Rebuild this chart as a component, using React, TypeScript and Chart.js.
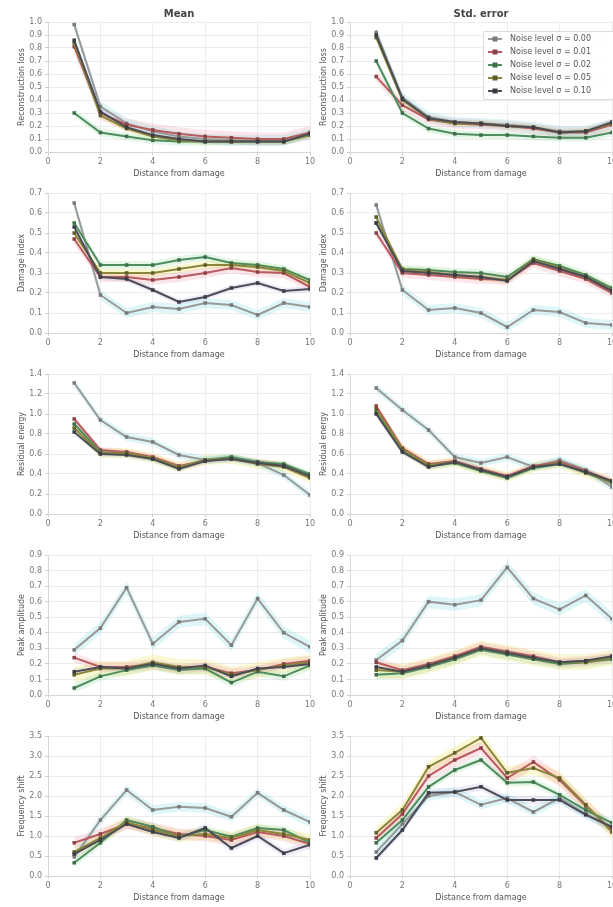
import React, { useEffect, useRef } from "react";
import { Chart, registerables } from "chart.js";

Chart.register(...registerables);

// ---------- data ----------
const distances = [1, 2, 3, 4, 5, 6, 7, 8, 9, 10];
const xTicks = [0, 2, 4, 6, 8, 10];
const columnTitles = ["Mean", "Std. error"];
const xTitle = "Distance from damage";
const yTitles = ["Reconstruction loss", "Damage index", "Residual energy", "Peak amplitude", "Frequency shift"];
const seriesNames = [
  "Noise level σ = 0.00",
  "Noise level σ = 0.01",
  "Noise level σ = 0.02",
  "Noise level σ = 0.05",
  "Noise level σ = 0.10",
];

const yTicksRow1 = [0, 0.1, 0.2, 0.3, 0.4, 0.5, 0.6, 0.7, 0.8, 0.9, 1.0];
const yTicksRow2 = [0, 0.1, 0.2, 0.3, 0.4, 0.5, 0.6, 0.7];
const yTicksRow3 = [0, 0.2, 0.4, 0.6, 0.8, 1.0, 1.2, 1.4];
const yTicksRow4 = [0, 0.1, 0.2, 0.3, 0.4, 0.5, 0.6, 0.7, 0.8, 0.9];
const yTicksRow5 = [0, 0.5, 1.0, 1.5, 2.0, 2.5, 3.0, 3.5];

const row1Left = [
  [0.98, 0.35, 0.22, 0.16, 0.12, 0.10, 0.09, 0.09, 0.09, 0.14],
  [0.81, 0.30, 0.21, 0.17, 0.14, 0.12, 0.11, 0.10, 0.10, 0.15],
  [0.30, 0.15, 0.12, 0.09, 0.08, 0.08, 0.08, 0.08, 0.08, 0.14],
  [0.84, 0.28, 0.18, 0.12, 0.09, 0.08, 0.08, 0.08, 0.08, 0.13],
  [0.86, 0.31, 0.19, 0.13, 0.10, 0.08, 0.08, 0.08, 0.08, 0.14],
];
const row1LeftErr = [0.04, 0.05, 0.03, 0.025, 0.02];

const row1Right = [
  [0.92, 0.42, 0.27, 0.23, 0.22, 0.21, 0.19, 0.16, 0.16, 0.22],
  [0.58, 0.36, 0.25, 0.22, 0.21, 0.20, 0.18, 0.15, 0.15, 0.21],
  [0.70, 0.30, 0.18, 0.14, 0.13, 0.13, 0.12, 0.11, 0.11, 0.15],
  [0.88, 0.40, 0.26, 0.22, 0.22, 0.20, 0.19, 0.15, 0.16, 0.22],
  [0.90, 0.41, 0.26, 0.23, 0.22, 0.20, 0.19, 0.15, 0.16, 0.23],
];
const row1RightErr = [0.04, 0.04, 0.03, 0.025, 0.02];

const row2Left = [
  [0.65, 0.19, 0.10, 0.13, 0.12, 0.15, 0.14, 0.09, 0.15, 0.13],
  [0.47, 0.28, 0.28, 0.265, 0.28, 0.30, 0.325, 0.305, 0.30, 0.23],
  [0.55, 0.34, 0.34, 0.34, 0.365, 0.38, 0.35, 0.34, 0.32, 0.265],
  [0.50, 0.30, 0.30, 0.30, 0.32, 0.34, 0.34, 0.33, 0.31, 0.25],
  [0.53, 0.28, 0.27, 0.215, 0.155, 0.18, 0.225, 0.25, 0.21, 0.22],
];
const row2LeftErr = [0.025, 0.025, 0.02, 0.02, 0.015];

const row2Right = [
  [0.64, 0.215, 0.115, 0.125, 0.10, 0.03, 0.115, 0.105, 0.05, 0.04],
  [0.50, 0.30, 0.29, 0.28, 0.27, 0.265, 0.35, 0.31, 0.27, 0.20],
  [0.55, 0.32, 0.315, 0.305, 0.30, 0.28, 0.37, 0.335, 0.29, 0.225],
  [0.58, 0.315, 0.305, 0.29, 0.28, 0.265, 0.365, 0.325, 0.28, 0.215],
  [0.55, 0.31, 0.30, 0.29, 0.28, 0.26, 0.36, 0.32, 0.28, 0.21],
];
const row2RightErr = [0.025, 0.025, 0.02, 0.02, 0.015];

const row3Left = [
  [1.31, 0.94, 0.77, 0.72, 0.59, 0.54, 0.56, 0.51, 0.39, 0.19],
  [0.95, 0.64, 0.62, 0.57, 0.48, 0.53, 0.56, 0.52, 0.49, 0.37],
  [0.90, 0.62, 0.60, 0.55, 0.46, 0.54, 0.57, 0.52, 0.50, 0.40],
  [0.86, 0.61, 0.61, 0.56, 0.47, 0.54, 0.55, 0.50, 0.47, 0.36],
  [0.82, 0.60, 0.59, 0.55, 0.45, 0.53, 0.55, 0.51, 0.48, 0.38],
];
const row3LeftErr = [0.04, 0.03, 0.03, 0.05, 0.03];

const row3Right = [
  [1.26, 1.04, 0.84, 0.57, 0.51, 0.57, 0.47, 0.54, 0.44, 0.27],
  [1.08, 0.66, 0.50, 0.53, 0.45, 0.38, 0.48, 0.52, 0.43, 0.33],
  [1.02, 0.63, 0.48, 0.51, 0.43, 0.36, 0.46, 0.50, 0.42, 0.31],
  [1.05, 0.65, 0.49, 0.52, 0.44, 0.37, 0.47, 0.51, 0.41, 0.32],
  [1.00, 0.62, 0.47, 0.52, 0.44, 0.37, 0.47, 0.50, 0.42, 0.33],
];
const row3RightErr = [0.04, 0.03, 0.03, 0.05, 0.03];

const row4Left = [
  [0.29, 0.43, 0.69, 0.33, 0.47, 0.49, 0.32, 0.62, 0.40, 0.31],
  [0.24, 0.18, 0.18, 0.20, 0.17, 0.18, 0.14, 0.16, 0.20, 0.22],
  [0.045, 0.12, 0.16, 0.19, 0.16, 0.17, 0.08, 0.15, 0.12, 0.19],
  [0.13, 0.17, 0.17, 0.21, 0.18, 0.18, 0.13, 0.16, 0.19, 0.21],
  [0.15, 0.18, 0.17, 0.20, 0.17, 0.19, 0.12, 0.17, 0.18, 0.20],
];
const row4LeftErr = [0.04, 0.03, 0.03, 0.05, 0.02];

const row4Right = [
  [0.225, 0.35, 0.60, 0.58, 0.61, 0.82, 0.62, 0.55, 0.64, 0.49],
  [0.21, 0.16, 0.20, 0.25, 0.31, 0.28, 0.25, 0.21, 0.22, 0.24],
  [0.13, 0.14, 0.18, 0.23, 0.29, 0.26, 0.23, 0.20, 0.21, 0.23],
  [0.16, 0.15, 0.19, 0.24, 0.30, 0.27, 0.24, 0.21, 0.21, 0.24],
  [0.18, 0.15, 0.19, 0.24, 0.30, 0.27, 0.24, 0.21, 0.22, 0.25],
];
const row4RightErr = [0.04, 0.03, 0.03, 0.05, 0.02];

const row5Left = [
  [0.48, 1.40, 2.15, 1.65, 1.73, 1.70, 1.48, 2.08, 1.65, 1.35],
  [0.83, 1.05, 1.30, 1.20, 1.05, 1.00, 0.90, 1.10, 1.00, 0.80],
  [0.33, 0.83, 1.40, 1.23, 0.98, 1.15, 0.98, 1.20, 1.15, 0.83],
  [0.60, 0.95, 1.35, 1.15, 1.00, 1.05, 0.95, 1.15, 1.05, 0.90],
  [0.55, 0.90, 1.30, 1.10, 0.95, 1.20, 0.70, 1.00, 0.57, 0.78],
];
const row5LeftErr = [0.12, 0.14, 0.1, 0.15, 0.1];

const row5Right = [
  [0.60, 1.30, 2.00, 2.10, 1.78, 1.95, 1.60, 1.95, 1.55, 1.20],
  [0.95, 1.55, 2.50, 2.90, 3.20, 2.45, 2.85, 2.40, 1.75, 1.15],
  [0.83, 1.40, 2.23, 2.65, 2.90, 2.33, 2.35, 2.03, 1.65, 1.33],
  [1.08, 1.65, 2.73, 3.08, 3.45, 2.58, 2.70, 2.45, 1.78, 1.10],
  [0.45, 1.15, 2.08, 2.10, 2.23, 1.90, 1.90, 1.90, 1.53, 1.23],
];
const row5RightErr = [0.12, 0.16, 0.1, 0.16, 0.1];

// ---------- styles ----------
const LINE_COLORS = ["#999999", "#b85b60", "#4f8c5e", "#8a863c", "#4d4d55"];
const MARKER_COLORS = ["#7a7a7a", "#8a4448", "#3e6e4a", "#5f5c28", "#3c3c44"];
const BAND_COLORS = [
  "rgba(110,215,225,0.22)",
  "rgba(240,140,155,0.22)",
  "rgba(130,215,150,0.22)",
  "rgba(240,228,110,0.30)",
  "rgba(175,165,230,0.22)",
];
const FONT = "DejaVu Sans";
const CANVAS_W = 318;
const CANVAS_H = 181;

const decorPlugin = {
  id: "panelDecor",
  afterDraw(chart: any, _args: any, opts: any) {
    const ctx = chart.ctx;
    const ca = chart.chartArea;
    ctx.save();
    if (opts.title) {
      ctx.font = `bold 10px "${FONT}"`;
      ctx.fillStyle = "#444";
      ctx.textAlign = "center";
      ctx.textBaseline = "middle";
      ctx.fillText(opts.title, (ca.left + ca.right) / 2, 14);
    }
    if (opts.legend) {
      const x0 = 181;
      const y0 = 31;
      const rowH = 13;
      ctx.fillStyle = "rgba(255,255,255,0.85)";
      ctx.strokeStyle = "#dcdcdc";
      ctx.lineWidth = 1;
      ctx.beginPath();
      ctx.rect(x0 + 0.5, y0 + 0.5, CANVAS_W - x0 + 10, rowH * opts.legend.length + 3);
      ctx.fill();
      ctx.stroke();
      ctx.font = `8px "${FONT}"`;
      ctx.textAlign = "left";
      ctx.textBaseline = "middle";
      opts.legend.forEach((name: string, i: number) => {
        const y = y0 + 8 + i * rowH;
        ctx.strokeStyle = LINE_COLORS[i];
        ctx.lineWidth = 2;
        ctx.beginPath();
        ctx.moveTo(x0 + 5, y);
        ctx.lineTo(x0 + 19, y);
        ctx.stroke();
        ctx.fillStyle = MARKER_COLORS[i];
        ctx.fillRect(x0 + 12 - 2.5, y - 2.5, 5, 5);
        ctx.fillStyle = "#555";
        ctx.fillText(name, x0 + 27, y);
      });
    }
    ctx.restore();
  },
};

type PanelProps = {
  row: number;
  col: number;
  series: number[][];
  errs: number[];
  yTicks: number[];
  yTitle: string;
};

function Panel({ row, col, series, errs, yTicks, yTitle }: PanelProps) {
  const ref = useRef<HTMLCanvasElement>(null);
  useEffect(() => {
    if (!ref.current) return;
    const datasets: any[] = [];
    series.forEach((vals, s) => {
      datasets.push({
        data: distances.map((x, i) => ({ x, y: vals[i] - errs[s] })),
        borderWidth: 0,
        pointRadius: 0,
        fill: false,
        borderColor: "transparent",
        backgroundColor: "transparent",
        order: 20,
      });
      datasets.push({
        data: distances.map((x, i) => ({ x, y: vals[i] + errs[s] })),
        borderWidth: 0,
        pointRadius: 0,
        fill: "-1",
        borderColor: "transparent",
        backgroundColor: BAND_COLORS[s],
        order: 20,
      });
    });
    series.forEach((vals, s) => {
      datasets.push({
        data: distances.map((x, i) => ({ x, y: vals[i] })),
        borderColor: LINE_COLORS[s],
        backgroundColor: LINE_COLORS[s],
        borderWidth: 2,
        pointStyle: "rect",
        pointRadius: 2.5,
        pointBackgroundColor: MARKER_COLORS[s],
        pointBorderWidth: 0,
        fill: false,
        tension: 0,
        order: 10 - s,
      });
    });
    const tickFont = { size: 8, family: FONT };
    const chart = new Chart(ref.current, {
      type: "line",
      data: { datasets },
      plugins: [decorPlugin],
      options: {
        responsive: false,
        animation: false,
        devicePixelRatio: 1,
        events: [],
        layout: { padding: { top: row === 0 ? 22 : 12, right: 8, left: 0, bottom: 0 } },
        plugins: {
          legend: { display: false },
          tooltip: { enabled: false },
          filler: { drawTime: "beforeDatasetsDraw", propagate: false },
          panelDecor: {
            title: row === 0 ? columnTitles[col] : null,
            legend: row === 0 && col === 1 ? seriesNames : null,
          },
        } as any,
        scales: {
          x: {
            type: "linear",
            min: xTicks[0],
            max: xTicks[xTicks.length - 1],
            afterBuildTicks: (s: any) => {
              s.ticks = xTicks.map((v) => ({ value: v }));
            },
            afterFit: (s: any) => {
              s.height = 29;
            },
            grid: { color: "#ececec", tickLength: 3, tickColor: "#cfcfcf" },
            border: { color: "#d6d6d6" },
            ticks: { font: tickFont, color: "#777", padding: 2, maxRotation: 0 },
            title: {
              display: true,
              text: xTitle,
              font: { size: 8, family: FONT },
              color: "#555",
              padding: { top: 0, bottom: 2 },
            },
          },
          y: {
            type: "linear",
            min: yTicks[0],
            max: yTicks[yTicks.length - 1],
            afterBuildTicks: (s: any) => {
              s.ticks = yTicks.map((v) => ({ value: v }));
            },
            afterFit: (s: any) => {
              s.width = 48;
            },
            grid: { color: "#ececec", tickLength: 3, tickColor: "#cfcfcf" },
            border: { color: "#d6d6d6" },
            ticks: {
              font: tickFont,
              color: "#777",
              padding: 3,
              callback: (v: any) => Number(v).toFixed(1),
            },
            title: {
              display: true,
              text: yTitle,
              font: { size: 8, family: FONT },
              color: "#555",
              padding: { top: 17, bottom: 0 },
            },
          },
        },
      } as any,
    });
    return () => chart.destroy();
  }, [row, col, series, errs, yTicks, yTitle]);
  return (
    <canvas
      ref={ref}
      width={CANVAS_W}
      height={CANVAS_H}
      style={{
        position: "absolute",
        left: col === 0 ? 0 : 302,
        top: row * CANVAS_H,
        width: CANVAS_W,
        height: CANVAS_H,
      }}
    />
  );
}

const panels = [
  { series: [row1Left, row1Right], errs: [row1LeftErr, row1RightErr], yTicks: yTicksRow1 },
  { series: [row2Left, row2Right], errs: [row2LeftErr, row2RightErr], yTicks: yTicksRow2 },
  { series: [row3Left, row3Right], errs: [row3LeftErr, row3RightErr], yTicks: yTicksRow3 },
  { series: [row4Left, row4Right], errs: [row4LeftErr, row4RightErr], yTicks: yTicksRow4 },
  { series: [row5Left, row5Right], errs: [row5LeftErr, row5RightErr], yTicks: yTicksRow5 },
];

export default function App() {
  return (
    <div
      style={{
        position: "absolute",
        left: 0,
        top: 0,
        width: 613,
        height: 907,
        overflow: "hidden",
        background: "#fff",
      }}
    >
      {panels.map((p, r) =>
        [0, 1].map((c) => (
          <Panel
            key={`${r}-${c}`}
            row={r}
            col={c}
            series={p.series[c]}
            errs={p.errs[c]}
            yTicks={p.yTicks}
            yTitle={yTitles[r]}
          />
        ))
      )}
    </div>
  );
}
